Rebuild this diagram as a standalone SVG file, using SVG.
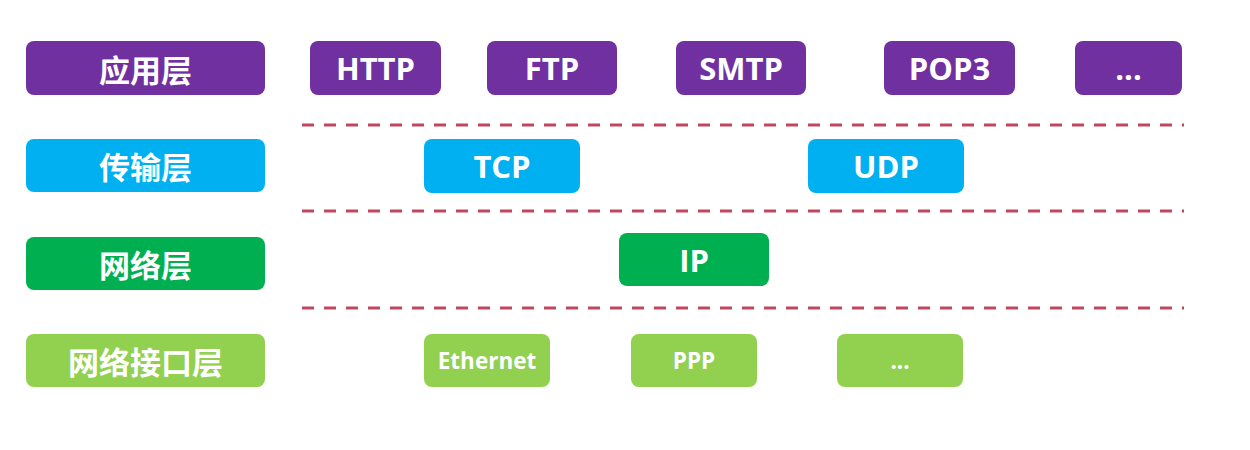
<svg xmlns="http://www.w3.org/2000/svg" width="1250" height="450" viewBox="0 0 1250 450">
<style>
.app{fill:#7030a0}
.tra{fill:#00b0f0}
.net{fill:#00b050}
.lnk{fill:#92d050}
.t{fill:#fff;font-family:"Open Sans","Noto Sans",sans-serif;font-weight:bold;text-anchor:middle;dominant-baseline:central}
.zh{fill:#fff;font-family:"Noto Sans CJK SC",sans-serif;font-weight:bold;font-size:31px;text-anchor:middle;dominant-baseline:central}
.big{font-size:31px}
.sm{font-size:22.5px}
.dash{stroke:#c0475f;stroke-width:3;stroke-dasharray:12 10;fill:none}
</style>
<rect width="1250" height="450" fill="#fff"/>
<g id="connectors">
<line class="dash" x1="302" y1="125" x2="1184" y2="125"/>
<line class="dash" x1="302" y1="211" x2="1184" y2="211"/>
<line class="dash" x1="302" y1="308" x2="1184" y2="308"/>
</g>
<g id="app-layer"><rect class="app" x="26" y="41" width="239" height="54" rx="8"/><text class="zh" x="145.5" y="68">应用层</text></g>
<g id="http"><rect class="app" x="310" y="41" width="131" height="54" rx="8"/><text class="t big" x="375.5" y="68">HTTP</text></g>
<g id="ftp"><rect class="app" x="487" y="41" width="130" height="54" rx="8"/><text class="t big" x="552" y="68">FTP</text></g>
<g id="smtp"><rect class="app" x="676" y="41" width="130" height="54" rx="8"/><text class="t big" x="741" y="68">SMTP</text></g>
<g id="pop3"><rect class="app" x="884" y="41" width="131" height="54" rx="8"/><text class="t big" x="949.5" y="68">POP3</text></g>
<g id="app-more"><rect class="app" x="1075" y="41" width="107" height="54" rx="8"/><text class="t big" x="1128.5" y="68">...</text></g>
<g id="transport-layer"><rect class="tra" x="26" y="139" width="239" height="53" rx="8"/><text class="zh" x="145.5" y="165.5">传输层</text></g>
<g id="tcp"><rect class="tra" x="424" y="139" width="156" height="54" rx="8"/><text class="t big" x="502" y="166">TCP</text></g>
<g id="udp"><rect class="tra" x="808" y="139" width="156" height="54" rx="8"/><text class="t big" x="886" y="166">UDP</text></g>
<g id="network-layer"><rect class="net" x="26" y="237" width="239" height="53" rx="8"/><text class="zh" x="145.5" y="263.5">网络层</text></g>
<g id="ip"><rect class="net" x="619" y="233" width="150" height="53" rx="8"/><text class="t big" x="694" y="259.5">IP</text></g>
<g id="link-layer"><rect class="lnk" x="26" y="334" width="239" height="53" rx="8"/><text class="zh" x="145.5" y="360.5">网络接口层</text></g>
<g id="ethernet"><rect class="lnk" x="424" y="334" width="126" height="53" rx="8"/><text class="t sm" x="487" y="360.5">Ethernet</text></g>
<g id="ppp"><rect class="lnk" x="631" y="334" width="126" height="53" rx="8"/><text class="t sm" x="694" y="360.5">PPP</text></g>
<g id="link-more"><rect class="lnk" x="837" y="334" width="126" height="53" rx="8"/><text class="t sm" x="900" y="360.5">...</text></g>
</svg>
